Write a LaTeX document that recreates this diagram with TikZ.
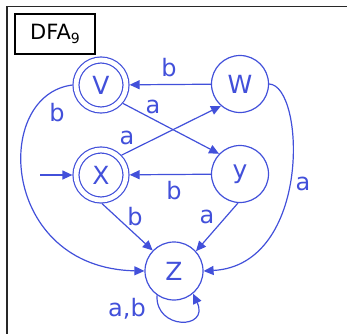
\documentclass[tikz,border=0pt]{standalone}
\usepackage{fontspec}
\setmainfont{DejaVu Sans}
\usetikzlibrary{arrows.meta}
\definecolor{fsm}{RGB}{66,80,218}
\definecolor{framec}{RGB}{40,40,40}
\begin{document}
\begin{tikzpicture}[x=1pt,y=-1pt,
  st/.style={circle,draw=fsm,line width=1.2pt,minimum size=57pt,inner sep=0pt,
    text=fsm,font=\fontsize{25}{25}\selectfont},
  acc/.style={st,minimum size=50pt,double=white,double distance=4.8pt,outer sep=3.6pt},
  e/.style={draw=fsm,line width=1.2pt,-{Triangle[length=10pt,width=9pt]}},
  lab/.style={text=fsm,font=\fontsize{24}{24}\selectfont,inner sep=0pt}]
\useasboundingbox (0,0) rectangle (347,333);
\draw[framec,line width=1.6pt] (7,340) -- (7,6.5) -- (350,6.5);
\node[draw=black,line width=1.2pt,minimum width=80pt,minimum height=40pt,inner sep=0pt,
  font=\fontsize{21}{21}\selectfont] (title) at (55,34)
  {DFA\raisebox{-0.35ex}{\fontsize{14}{14}\selectfont 9}};
\node[acc] (V) at (101,85) {V};
\node[st] (W) at (240,84) {W};
\node[acc] (X) at (101,175) {X};
\node[st] (Y) at (240,174) {y};
\node[st,minimum size=58pt] (Z) at (174,271) {Z};
\coordinate (s) at (40,175);
\draw[e] (s) -- (X);
\draw[e] (W) -- (V) node[lab] at (169,68) {b};
\draw[e] (V.320) -- (Y.136) node[lab] at (153,107) {a};
\draw[e] (X.44) -- (W.229) node[lab] at (127,138) {a};
\draw[e] (Y) -- (X) node[lab] at (174,191) {b};
\draw[e] (X.272) -- (Z.136) node[lab] at (135,217) {b};
\draw[e] (Y.266) -- (Z.42) node[lab] at (207,217) {a};
\draw[e] (V.west) .. controls (-8,95) and (0,268) .. (Z.west) node[lab] at (57,113) {b};
\draw[e] (W.east) .. controls (305,85) and (312,265) .. (Z.east) node[lab] at (303,184) {a};
\draw[e] (Z.235) .. controls (155,330) and (210,330) .. (Z.310) node[lab] at (127,309) {a,b};
\end{tikzpicture}
\end{document}
